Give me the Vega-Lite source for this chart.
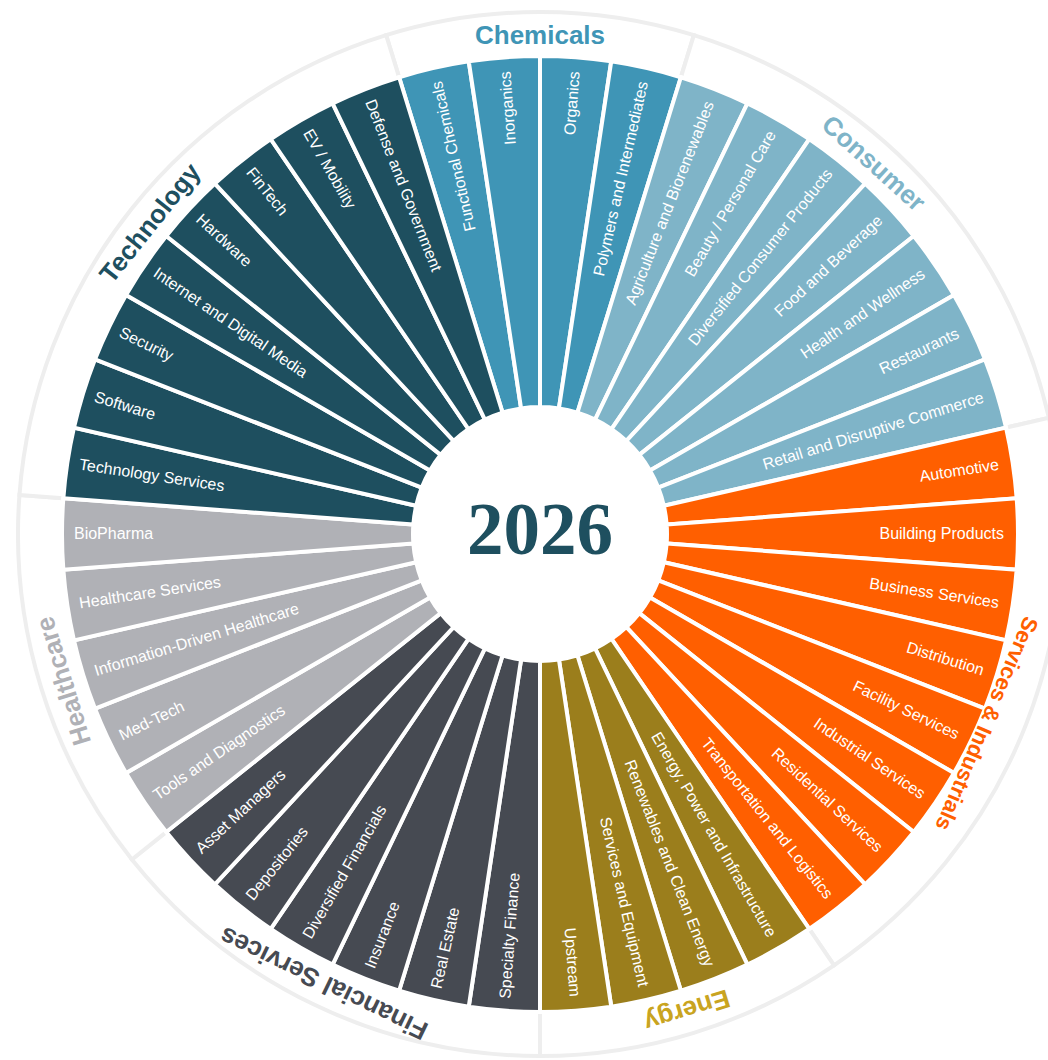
{
  "$schema": "https://vega.github.io/schema/vega-lite/v6.json",
  "width": 1016,
  "height": 1052,
  "autosize": "none",
  "padding": {"left": 32, "top": 8, "right": 0, "bottom": 0},
  "background": "white",
  "config": {"view": {"stroke": null}},
  "datasets": {
    "segments": [
      {"order": 0, "name": "Functional Chemicals", "group": "Chemicals", "n": 1},
      {"order": 1, "name": "Inorganics", "group": "Chemicals", "n": 1},
      {"order": 2, "name": "Organics", "group": "Chemicals", "n": 1},
      {"order": 3, "name": "Polymers and Intermediates", "group": "Chemicals", "n": 1},
      {"order": 4, "name": "Agriculture and Biorenewables", "group": "Consumer", "n": 1},
      {"order": 5, "name": "Beauty / Personal Care", "group": "Consumer", "n": 1},
      {"order": 6, "name": "Diversified Consumer Products", "group": "Consumer", "n": 1},
      {"order": 7, "name": "Food and Beverage", "group": "Consumer", "n": 1},
      {"order": 8, "name": "Health and Wellness", "group": "Consumer", "n": 1},
      {"order": 9, "name": "Restaurants", "group": "Consumer", "n": 1},
      {"order": 10, "name": "Retail and Disruptive Commerce", "group": "Consumer", "n": 1},
      {"order": 11, "name": "Automotive", "group": "Services & Industrials", "n": 1},
      {"order": 12, "name": "Building Products", "group": "Services & Industrials", "n": 1},
      {"order": 13, "name": "Business Services", "group": "Services & Industrials", "n": 1},
      {"order": 14, "name": "Distribution", "group": "Services & Industrials", "n": 1},
      {"order": 15, "name": "Facility Services", "group": "Services & Industrials", "n": 1},
      {"order": 16, "name": "Industrial Services", "group": "Services & Industrials", "n": 1},
      {"order": 17, "name": "Residential Services", "group": "Services & Industrials", "n": 1},
      {"order": 18, "name": "Transportation and Logistics", "group": "Services & Industrials", "n": 1},
      {"order": 19, "name": "Energy, Power and Infrastructure", "group": "Energy", "n": 1},
      {"order": 20, "name": "Renewables and Clean Energy", "group": "Energy", "n": 1},
      {"order": 21, "name": "Services and Equipment", "group": "Energy", "n": 1},
      {"order": 22, "name": "Upstream", "group": "Energy", "n": 1},
      {"order": 23, "name": "Specialty Finance", "group": "Financial Services", "n": 1},
      {"order": 24, "name": "Real Estate", "group": "Financial Services", "n": 1},
      {"order": 25, "name": "Insurance", "group": "Financial Services", "n": 1},
      {"order": 26, "name": "Diversified Financials", "group": "Financial Services", "n": 1},
      {"order": 27, "name": "Depositories", "group": "Financial Services", "n": 1},
      {"order": 28, "name": "Asset Managers", "group": "Financial Services", "n": 1},
      {"order": 29, "name": "Tools and Diagnostics", "group": "Healthcare", "n": 1},
      {"order": 30, "name": "Med-Tech", "group": "Healthcare", "n": 1},
      {"order": 31, "name": "Information-Driven Healthcare", "group": "Healthcare", "n": 1},
      {"order": 32, "name": "Healthcare Services", "group": "Healthcare", "n": 1},
      {"order": 33, "name": "BioPharma", "group": "Healthcare", "n": 1},
      {"order": 34, "name": "Technology Services", "group": "Technology", "n": 1},
      {"order": 35, "name": "Software", "group": "Technology", "n": 1},
      {"order": 36, "name": "Security", "group": "Technology", "n": 1},
      {"order": 37, "name": "Internet and Digital Media", "group": "Technology", "n": 1},
      {"order": 38, "name": "Hardware", "group": "Technology", "n": 1},
      {"order": 39, "name": "FinTech", "group": "Technology", "n": 1},
      {"order": 40, "name": "EV / Mobility", "group": "Technology", "n": 1},
      {"order": 41, "name": "Defense and Government", "group": "Technology", "n": 1}
    ],
    "center": [{"label": "2026"}]
  },
  "resolve": {"scale": {"color": "independent", "angle": "independent", "theta": "independent"}},
  "layer": [
    {
      "data": {"name": "segments"},
      "transform": [
        {"aggregate": [{"op": "sum", "field": "n", "as": "n"}, {"op": "min", "field": "order", "as": "first"}], "groupby": ["group"]}
      ],
      "mark": {"type": "arc", "innerRadius": 468, "outerRadius": 522, "fill": "white", "stroke": "#eeeeee", "strokeWidth": 4},
      "encoding": {
        "theta": {"field": "n", "type": "quantitative", "stack": true, "scale": {"domain": [0, 42], "range": [-0.29920, 5.98399], "nice": false}},
        "order": {"field": "first", "type": "quantitative"}
      }
    },
    {
      "data": {"name": "segments"},
      "mark": {"type": "arc", "innerRadius": 127, "outerRadius": 478, "stroke": "white", "strokeWidth": 4},
      "encoding": {
        "theta": {"field": "n", "type": "quantitative", "stack": true, "scale": {"domain": [0, 42], "range": [-0.29920, 5.98399], "nice": false}},
        "order": {"field": "order", "type": "quantitative"},
        "color": {
          "field": "group", "type": "nominal", "legend": null,
          "scale": {
            "domain": ["Chemicals", "Consumer", "Services & Industrials", "Energy", "Financial Services", "Healthcare", "Technology"],
            "range": ["#3f95b6", "#7fb4c8", "#ff5f00", "#9b7e1c", "#464a52", "#b0b1b6", "#1e4f5f"]
          }
        }
      }
    },
    {
      "data": {"name": "segments"},
      "mark": {"type": "text", "radius": 464, "align": "right", "baseline": "middle", "font": "Liberation Sans", "fontSize": 16, "color": "white"},
      "encoding": {
        "theta": {"field": "n", "type": "quantitative", "stack": true, "scale": {"domain": [0, 42], "range": [-0.29920, 5.98399], "nice": false}},
        "order": {"field": "order", "type": "quantitative"},
        "angle": {"field": "order", "type": "quantitative", "legend": null, "scale": {"domain": [0, 42], "range": [-102.857, 257.143], "nice": false, "zero": false}},
        "text": {"condition": {"test": "datum.order <= 22", "field": "name"}, "value": ""}
      }
    },
    {
      "data": {"name": "segments"},
      "mark": {"type": "text", "radius": 466, "align": "left", "baseline": "middle", "font": "Liberation Sans", "fontSize": 16, "color": "white"},
      "encoding": {
        "theta": {"field": "n", "type": "quantitative", "stack": true, "scale": {"domain": [0, 42], "range": [-0.29920, 5.98399], "nice": false}},
        "order": {"field": "order", "type": "quantitative"},
        "angle": {"field": "order", "type": "quantitative", "legend": null, "scale": {"domain": [0, 42], "range": [-282.857, 77.143], "nice": false, "zero": false}},
        "text": {"condition": {"test": "datum.order >= 23", "field": "name"}, "value": ""}
      }
    },
    {
      "data": {"name": "segments"},
      "transform": [
        {"aggregate": [{"op": "min", "field": "order", "as": "first"}], "groupby": ["group"]},
        {"filter": "datum.group !== 'Services & Industrials'"}
      ],
      "mark": {"type": "text", "radius": 498, "align": "center", "baseline": "middle", "font": "Liberation Sans", "fontWeight": "bold", "fontSize": 26},
      "encoding": {
        "theta": {"field": "first", "type": "quantitative", "scale": {"domain": [0, 4, 11, 19, 23, 29, 34], "range": [0, 0.7330, 1.9448, 2.8424, 3.5903, 4.4132, 5.3856], "nice": false, "zero": false}},
        "angle": {"field": "first", "type": "quantitative", "legend": null, "scale": {"domain": [0, 4, 11, 19, 23, 29, 34], "range": [0, 42, 111.43, 162.86, 205.71, 252.86, 308.57], "nice": false, "zero": false}},
        "text": {"field": "group", "type": "nominal"},
        "color": {
          "field": "group", "type": "nominal", "legend": null,
          "scale": {
            "domain": ["Chemicals", "Consumer", "Services & Industrials", "Energy", "Financial Services", "Healthcare", "Technology"],
            "range": ["#3f95b6", "#7fb4c8", "#ff5f00", "#c9a420", "#464a52", "#b0b1b6", "#1e4f5f"]
          }
        }
      }
    },
    {
      "data": {"name": "segments"},
      "transform": [
        {"aggregate": [{"op": "min", "field": "order", "as": "first"}], "groupby": ["group"]},
        {"filter": "datum.group === 'Services & Industrials'"}
      ],
      "mark": {"type": "text", "radius": 485, "align": "center", "baseline": "middle", "font": "Liberation Sans", "fontWeight": "bold", "fontSize": 22, "color": "#ff5f00"},
      "encoding": {
        "theta": {"field": "first", "type": "quantitative", "scale": {"domain": [0, 42], "range": [1.9722, 1.9722], "nice": false, "zero": false}},
        "angle": {"field": "first", "type": "quantitative", "legend": null, "scale": {"domain": [0, 42], "range": [113, 113], "nice": false, "zero": false}},
        "text": {"field": "group", "type": "nominal"}
      }
    },
    {
      "data": {"name": "center"},
      "mark": {"type": "text", "font": "Liberation Serif", "fontWeight": "bold", "fontSize": 73, "color": "#1e4f5f", "align": "center", "baseline": "middle", "dy": -2},
      "encoding": {
        "text": {"field": "label", "type": "nominal"}
      }
    }
  ]
}
